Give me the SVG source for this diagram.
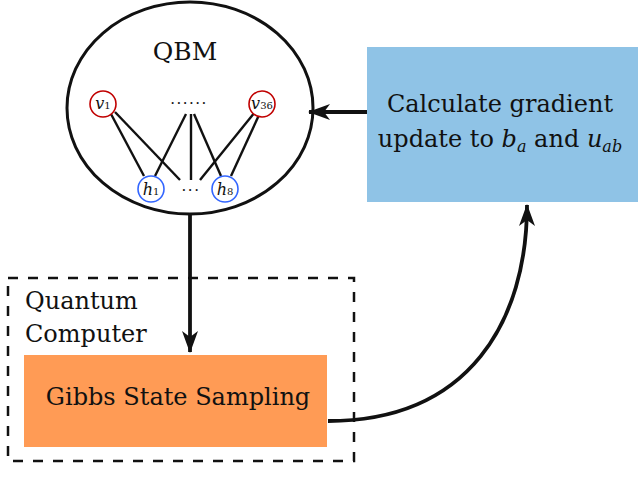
<svg xmlns="http://www.w3.org/2000/svg" width="640" height="495" viewBox="0 0 640 495">
<style>
text{font-family:"DejaVu Serif",serif;fill:#111}
.m{font-style:italic}
.e{stroke:#111;stroke-width:2.4;fill:none}
.c{stroke:#111;stroke-width:3.8;fill:none}
</style>
<defs>
<marker id="a" viewBox="0 0 22 16" refX="21" refY="8" markerWidth="22" markerHeight="16" markerUnits="userSpaceOnUse" orient="auto">
<path d="M0,0 L22,8 L0,16 L6,8 Z" fill="#111"/>
</marker>
</defs>
<g id="computer">
<rect x="8" y="278" width="346" height="183" fill="none" stroke="#111" stroke-width="2.5" stroke-dasharray="10,10"/>
<text x="25" y="309" font-size="24">Quantum</text>
<text x="25" y="342" font-size="24">Computer</text>
</g>
<g id="qbm">
<ellipse cx="190" cy="108" rx="123" ry="106" fill="#fff" stroke="#111" stroke-width="3"/>
<text x="185" y="60" font-size="25" text-anchor="middle">QBM</text>
<g class="e">
<line x1="111" y1="114" x2="144" y2="176"/>
<line x1="115" y1="112" x2="180" y2="180"/>
<line x1="186" y1="114" x2="155" y2="176"/>
<line x1="191" y1="114" x2="191" y2="180"/>
<line x1="194" y1="114" x2="221" y2="176"/>
<line x1="255" y1="112" x2="200" y2="180"/>
<line x1="259" y1="115" x2="231" y2="176"/>
</g>
<circle cx="103" cy="104" r="13" fill="#fff" stroke="#c00000" stroke-width="1.6"/>
<circle cx="262" cy="104" r="13" fill="#fff" stroke="#c00000" stroke-width="1.6"/>
<circle cx="151" cy="189" r="13" fill="#fff" stroke="#3366ff" stroke-width="1.6"/>
<circle cx="225" cy="189" r="13" fill="#fff" stroke="#3366ff" stroke-width="1.6"/>
<text x="103" y="109" font-size="16" text-anchor="middle"><tspan class="m">v</tspan><tspan font-size="10">1</tspan></text>
<text x="262" y="109" font-size="16" text-anchor="middle"><tspan class="m">v</tspan><tspan font-size="10">36</tspan></text>
<text x="151" y="195" font-size="16" text-anchor="middle"><tspan class="m">h</tspan><tspan font-size="10">1</tspan></text>
<text x="225" y="195" font-size="16" text-anchor="middle"><tspan class="m">h</tspan><tspan font-size="10">8</tspan></text>
<text x="189" y="104" font-size="15" text-anchor="middle" letter-spacing="1.5">......</text>
<text x="191" y="191" font-size="15" text-anchor="middle" letter-spacing="1.5">...</text>
</g>
<g id="gradient">
<rect x="367" y="47" width="271" height="155" fill="#8fc3e6"/>
<g font-size="24" text-anchor="middle">
<text x="500" y="112">Calculate gradient</text>
<text x="500" y="147">update to <tspan class="m">b</tspan><tspan class="m" font-size="16" dy="5">a</tspan><tspan dy="-5"> and </tspan><tspan class="m">u</tspan><tspan class="m" font-size="16" dy="5">ab</tspan></text>
</g>
</g>
<g id="sampling">
<rect x="24" y="355" width="303" height="92" fill="#ff9b55"/>
<text x="178" y="405" font-size="24" text-anchor="middle">Gibbs State Sampling</text>
</g>
<g id="connectors">
<line class="c" x1="190" y1="214" x2="190" y2="352" marker-end="url(#a)"/>
<line class="c" x1="367" y1="112" x2="309" y2="112" marker-end="url(#a)"/>
<path class="c" d="M328,421 C470,421 527,320 527,205" marker-end="url(#a)"/>
</g>
</svg>
